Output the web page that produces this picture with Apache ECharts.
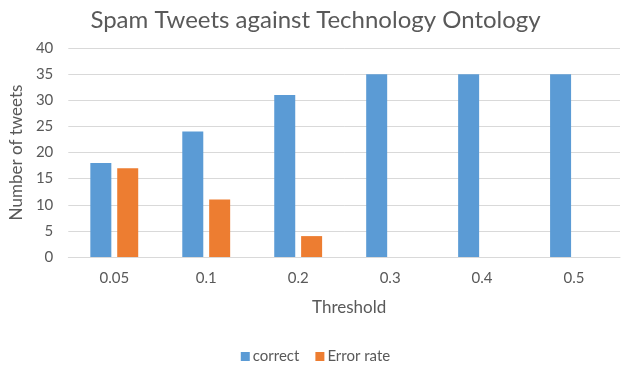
<!DOCTYPE html>
<html><head><meta charset="utf-8">
<script src="https://cdn.jsdelivr.net/npm/echarts@6/dist/echarts.min.js"></script>
<style>html,body{margin:0;padding:0;background:#fff}#c{width:631px;height:367px}</style>
</head><body><div id="c"></div>
<script>
const categories = ["0.05", "0.1", "0.2", "0.3", "0.4", "0.5"];
const correct = [18, 24, 31, 35, 35, 35];
const errorRate = [17, 11, 4, 0, 0, 0];
const yTicks = { min: 0, max: 40, interval: 5 };

const font = "Lato, 'Open Sans', sans-serif";
const chart = echarts.init(document.getElementById('c'), null, { renderer: 'canvas' });
chart.setOption({
  animation: false,
  textStyle: { fontFamily: font },
  title: {
    text: 'Spam Tweets against Technology Ontology',
    left: 'center', top: 3,
    textStyle: { fontFamily: font, fontSize: 24, fontWeight: 'normal', color: '#595959' }
  },
  legend: {
    bottom: -2, left: 'center',
    itemWidth: 9, itemHeight: 9, itemGap: 16,
    icon: 'rect',
    textStyle: { fontFamily: font, fontSize: 15, color: '#595959', padding: [0, 0, 0, -2] },
    data: ['correct', 'Error rate']
  },
  grid: { left: 67, right: 11, top: 48, bottom: 110 },
  xAxis: {
    type: 'category', data: categories,
    name: 'Threshold', nameLocation: 'middle', nameGap: 42,
    nameTextStyle: { fontFamily: font, fontSize: 17, color: '#595959', padding: [0, 0, 0, 10] },
    axisLine: { lineStyle: { color: '#D9D9D9' } },
    axisTick: { show: false },
    axisLabel: { fontFamily: font, fontSize: 15, color: '#595959', margin: 14 }
  },
  yAxis: {
    type: 'value', min: yTicks.min, max: yTicks.max, interval: yTicks.interval,
    name: 'Number of tweets', nameLocation: 'middle', nameGap: 40, nameRotate: 90,
    nameTextStyle: { fontFamily: font, fontSize: 17, color: '#595959' },
    axisLine: { show: false }, axisTick: { show: false },
    axisLabel: { fontFamily: font, fontSize: 15, color: '#595959', margin: 15 },
    splitLine: { lineStyle: { color: '#D9D9D9' } }
  },
  series: [
    { name: 'correct', type: 'bar', data: correct, barWidth: 21, barGap: '28%',
      itemStyle: { color: '#5B9BD5' } },
    { name: 'Error rate', type: 'bar', data: errorRate, barWidth: 21,
      itemStyle: { color: '#ED7D31' } }
  ]
});
</script></body></html>
